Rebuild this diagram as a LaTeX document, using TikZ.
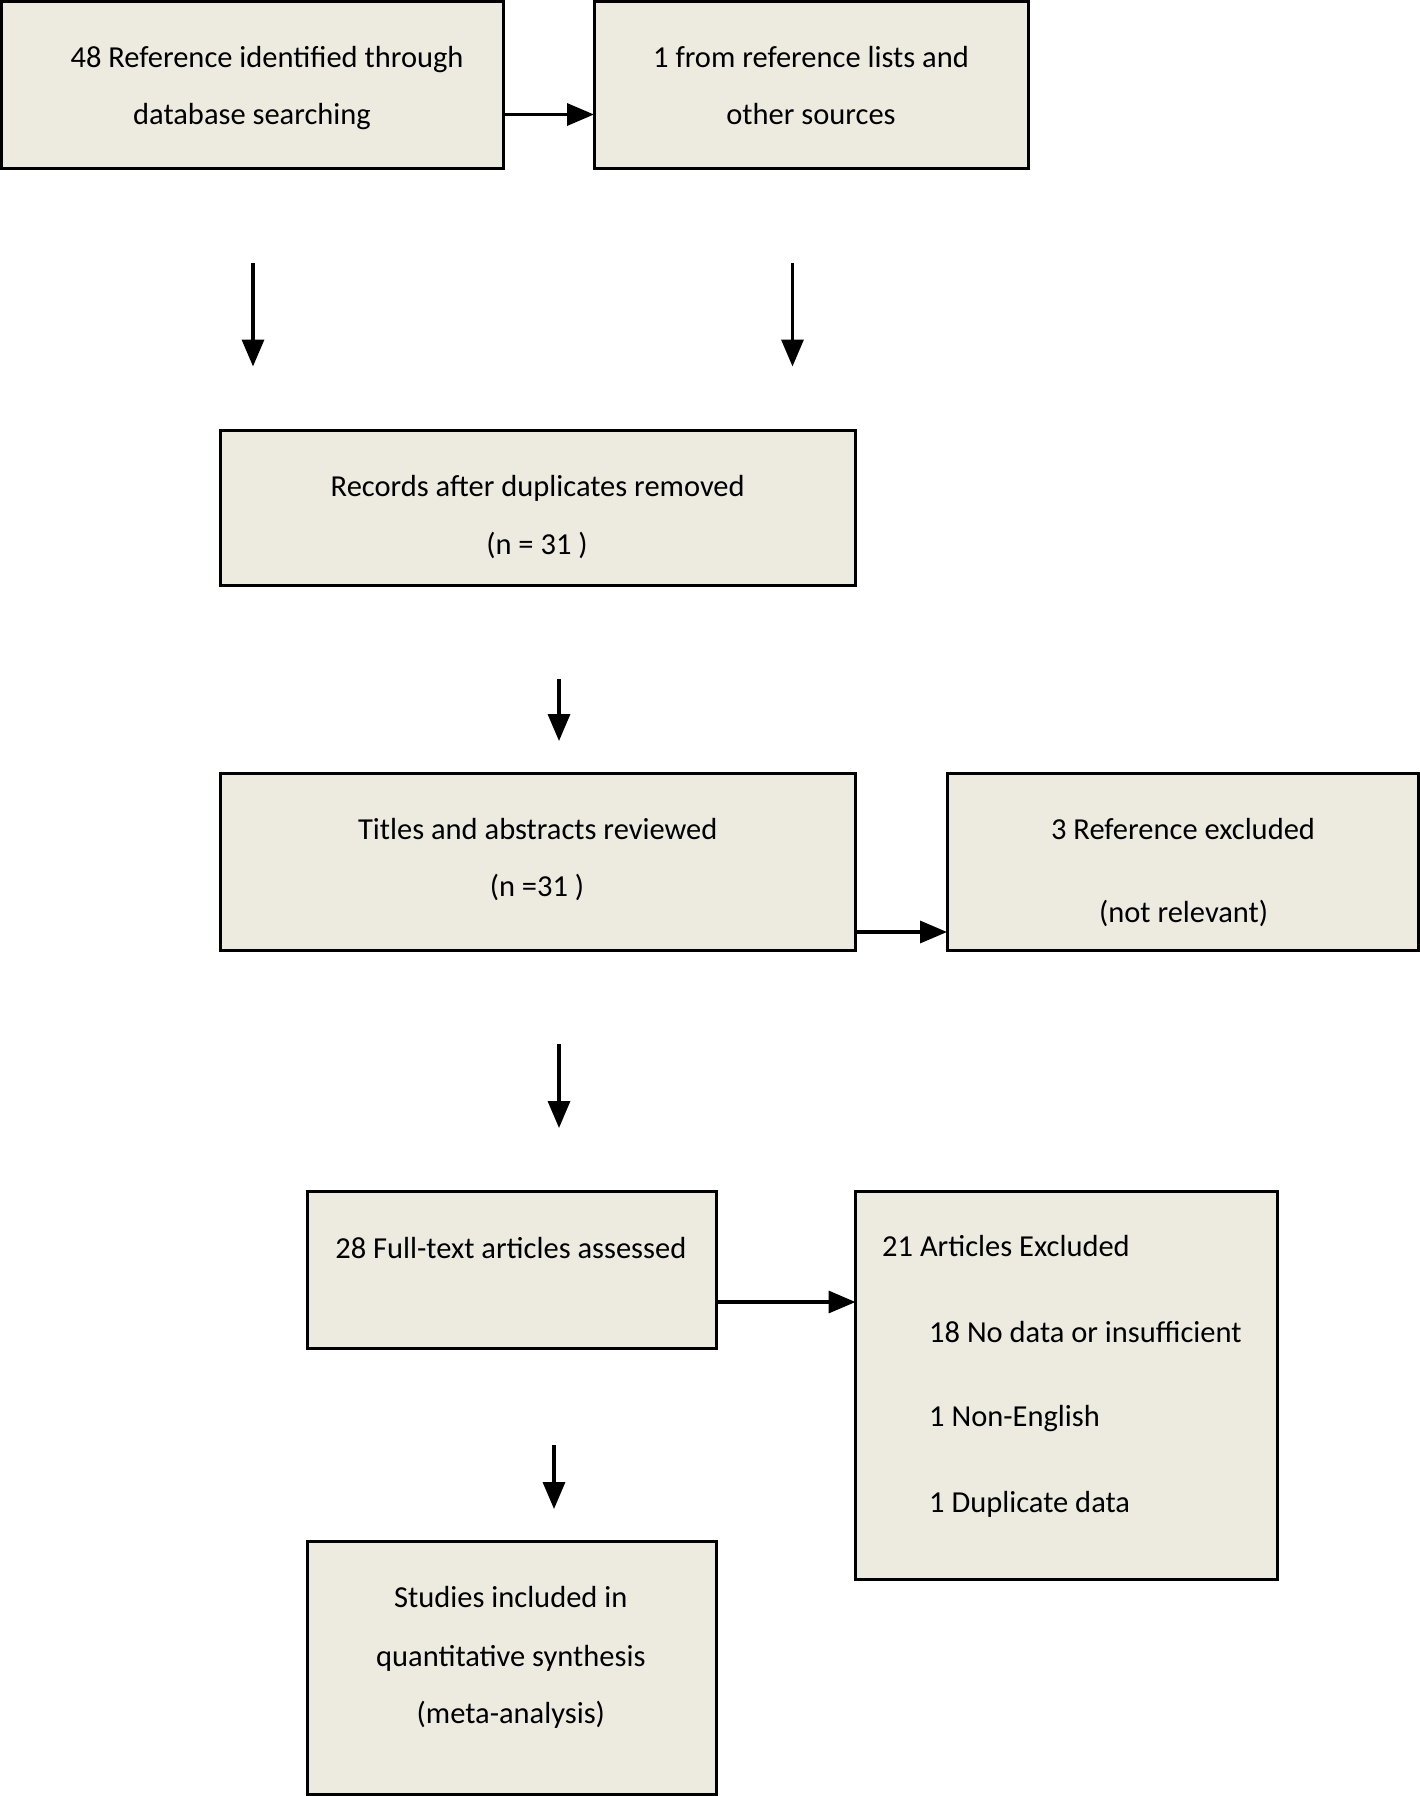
\documentclass[tikz,border=0pt]{standalone}
\usepackage{fontspec}
\setmainfont{Carlito}
\usetikzlibrary{arrows.meta,calc}
\definecolor{boxfill}{RGB}{237,234,224}
\tikzset{
  box/.style={draw=black, line width=3pt, fill=boxfill, rectangle, inner sep=0pt, outer sep=0pt, anchor=north west},
  txt/.style={font=\fontsize{30.5pt}{36pt}\selectfont, inner sep=0pt, anchor=base},
  ltxt/.style={txt, anchor=base west},
  arr/.style={line width=3.4pt, -{Triangle[width=22pt,length=27pt]}}
}
\begin{document}
\begin{tikzpicture}[x=1pt,y=-1pt]
\useasboundingbox (0,0) rectangle (1420,1796);
% boxes
\node[box, minimum width=502pt, minimum height=166.5pt] (A) at (1.5,1.5) {};
\node[box, minimum width=434pt, minimum height=166.5pt] (B) at (594,1.5) {};
\node[box, minimum width=635.5pt, minimum height=154.5pt] (C) at (220,430.5) {};
\node[box, minimum width=635.5pt, minimum height=177.5pt] (D) at (220,773) {};
\node[box, minimum width=471.5pt, minimum height=177.5pt] (E) at (947,773) {};
\node[box, minimum width=409pt, minimum height=157pt] (F) at (307,1191) {};
\node[box, minimum width=421.5pt, minimum height=388pt] (G) at (855.5,1191) {};
\node[box, minimum width=409pt, minimum height=252.5pt] (H) at (307,1541.5) {};
% texts
\node[txt] (A1) at (267,67) {48 Reference identified through};
\node[txt] (A2) at (252,124.5) {database searching};
\node[txt] (B1) at (811,67) {1 from reference lists and};
\node[txt] (B2) at (811,124.5) {other sources};
\node[txt] (C1) at (537.7,496.7) {Records after duplicates removed};
\node[txt] (C2) at (537,554) {(n = 31 )};
\node[txt] (D1) at (537.7,839) {Titles and abstracts reviewed};
\node[txt] (D2) at (537,896) {(n =31 )};
\node[txt] (E1) at (1183,839) {3 Reference excluded};
\node[txt] (E2) at (1183.6,922.7) {(not relevant)};
\node[txt] (F1) at (510.8,1258) {28 Full-text articles assessed};
\node[ltxt] (G1) at (882,1256) {21 Articles Excluded};
\node[ltxt] (G2) at (929,1342) {18 No data or insufficient};
\node[ltxt] (G3) at (929,1426.6) {1 Non-English};
\node[ltxt] (G4) at (929,1512.5) {1 Duplicate data};
\node[txt] (H1) at (510.8,1607.6) {Studies included in};
\node[txt] (H2) at (510.8,1666) {quantitative synthesis};
\node[txt] (H3) at (510.8,1723) {(meta-analysis)};
% connector helpers
\coordinate (yab) at (0,114.5);
\coordinate (yde) at (0,932);
\coordinate (yfg) at (0,1302);
\coordinate (d1s) at (253,263);
\coordinate (d1e) at (253,366.5);
\coordinate (d2s) at (792.5,263);
\coordinate (d2e) at (792.5,366.5);
\coordinate (d3s) at (559,679);
\coordinate (d3e) at (559,741);
\coordinate (d4s) at (559,1044);
\coordinate (d4e) at (559,1128);
\coordinate (d5s) at (554,1445);
\coordinate (d5e) at (554,1509);
% connectors
\draw[arr] (A.east |- yab) -- (B.west |- yab);
\draw[arr] (D.east |- yde) -- (E.west |- yde);
\draw[arr] (F.east |- yfg) -- (G.west |- yfg);
\draw[arr] (d1s) -- (d1e);
\draw[arr] (d2s) -- (d2e);
\draw[arr] (d3s) -- (d3e);
\draw[arr] (d4s) -- (d4e);
\draw[arr] (d5s) -- (d5e);
\end{tikzpicture}
\end{document}
